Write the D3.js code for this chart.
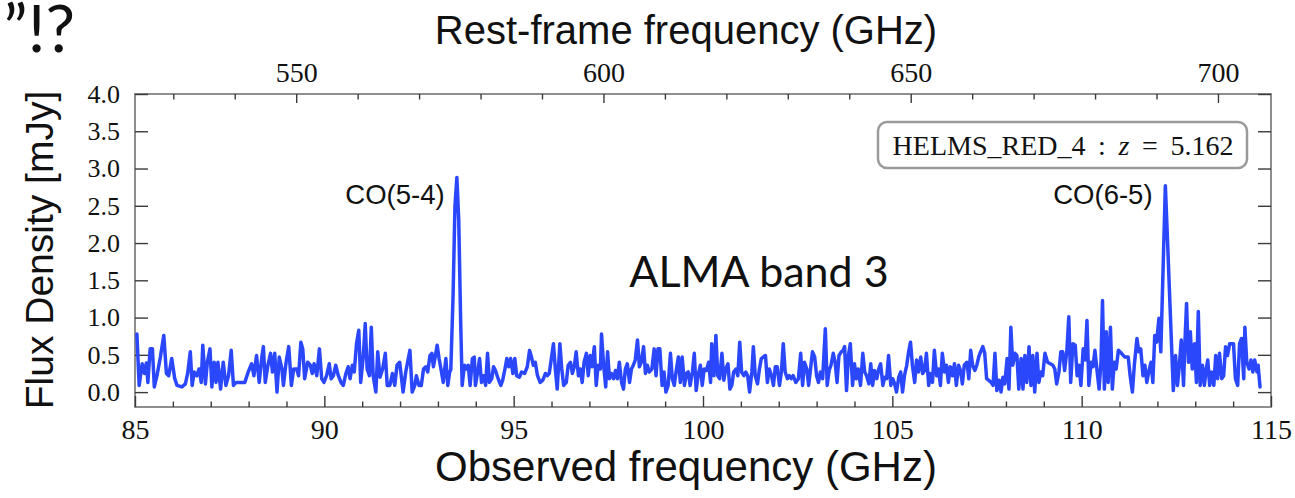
<!DOCTYPE html>
<html><head><meta charset="utf-8">
<script src="https://cdn.jsdelivr.net/npm/d3@7"></script>
<style>html,body{margin:0;padding:0;background:#fff}svg{display:block}</style>
</head><body>
<svg id="chart" width="1295" height="498"></svg>
<script>
const redshift = 5.162;
const sourceName = "HELMS_RED_4";
const lineNames = ["CO(5-4)", "CO(6-5)"];
const lineRestGHz = [576.268, 691.473];
const xTicks = [85, 90, 95, 100, 105, 110, 115];
const xMinorTicks = [86,87,88,89,91,92,93,94,96,97,98,99,101,102,103,104,106,107,108,109,111,112,113,114];
const restTicks = [550, 600, 650, 700];
const restMinorTicks = [530,540,560,570,580,590,610,620,630,640,660,670,680,690];
const yTicks = [0.0, 0.5, 1.0, 1.5, 2.0, 2.5, 3.0, 3.5, 4.0];
// observed frequency (GHz), flux density (mJy)
const spectrum = [
[85.05,0.78],[85.11,0.09],[85.19,0.38],[85.25,0.25],[85.30,0.39],[85.34,0.13],[85.40,0.58],[85.46,0.58],[85.51,0.07],[85.58,0.22],
[85.67,0.47],[85.76,0.76],[85.83,0.25],[85.89,0.22],[85.97,0.45],[86.05,0.18],[86.11,0.09],[86.24,0.07],[86.33,0.11],[86.39,0.25],
[86.46,0.54],[86.51,0.09],[86.56,0.27],[86.63,0.22],[86.69,0.31],[86.75,0.13],[86.79,0.63],[86.86,0.11],[86.91,0.40],[86.98,0.58],
[87.03,0.07],[87.09,0.40],[87.14,0.13],[87.19,0.40],[87.26,0.04],[87.33,0.40],[87.40,0.09],[87.47,0.22],[87.54,0.56],[87.60,0.09],
[87.67,0.13],[87.90,0.13],[87.99,0.27],[88.08,0.38],[88.14,0.22],[88.21,0.49],[88.28,0.13],[88.35,0.47],[88.39,0.61],[88.44,0.13],
[88.51,0.36],[88.58,0.52],[88.63,0.27],[88.69,0.52],[88.75,0.00],[88.81,0.47],[88.88,0.31],[88.92,0.09],[88.99,0.40],[89.06,0.61],
[89.13,0.09],[89.19,0.31],[89.27,0.31],[89.32,0.22],[89.38,0.67],[89.43,0.58],[89.48,0.18],[89.56,0.40],[89.63,0.36],[89.68,0.25],
[89.73,0.38],[89.80,0.22],[89.87,0.58],[89.93,0.18],[89.99,0.13],[90.06,0.22],[90.13,0.38],[90.18,0.18],[90.24,0.22],[90.30,0.36],
[90.37,0.22],[90.44,0.13],[90.50,0.09],[90.57,0.25],[90.63,0.34],[90.68,0.18],[90.74,0.36],[90.79,0.27],[90.85,0.65],[90.91,0.83],
[90.96,0.13],[91.03,0.49],[91.08,0.92],[91.13,0.31],[91.19,0.22],[91.24,0.87],[91.29,0.22],[91.36,0.00],[91.41,0.54],[91.47,0.20],
[91.54,0.31],[91.61,0.52],[91.66,0.09],[91.73,0.09],[91.80,0.25],[91.86,0.09],[91.92,0.36],[91.99,0.40],[92.04,0.18],[92.08,0.00],
[92.15,0.27],[92.21,0.43],[92.26,0.56],[92.32,0.00],[92.39,0.09],[92.43,0.22],[92.50,0.09],
[92.56,0.09],[92.62,0.31],[92.68,0.34],[92.73,0.27],[92.79,0.49],[92.84,0.52],[92.88,0.34],[92.92,0.45],[92.98,0.63],[93.03,0.45],
[93.08,0.31],[93.14,0.13],[93.21,0.45],[93.26,0.09],[93.31,0.27],[93.34,0.30],[93.40,1.30],[93.45,2.50],[93.50,2.88],[93.55,2.30],
[93.60,0.95],[93.64,0.09],[93.70,0.36],[93.76,0.31],[93.80,0.36],[93.85,0.09],[93.91,0.45],[93.96,0.47],[93.99,0.09],[94.05,0.27],
[94.10,0.45],[94.15,0.13],[94.21,0.22],[94.26,0.09],[94.31,0.52],[94.36,0.13],[94.42,0.18],[94.47,0.34],[94.52,0.29],[94.59,0.18],
[94.66,0.09],[94.71,0.16],[94.77,0.31],[94.82,0.45],[94.87,0.34],[94.92,0.45],[94.98,0.25],[95.03,0.45],[95.08,0.22],[95.15,0.20],
[95.21,0.27],[95.29,0.25],[95.36,0.34],[95.42,0.56],[95.47,0.47],[95.52,0.36],[95.57,0.40],[95.63,0.22],[95.70,0.13],[95.77,0.16],
[95.84,0.25],[95.89,0.22],[95.94,0.25],[95.99,0.43],[96.05,0.65],[96.10,0.31],[96.15,0.04],[96.22,0.65],[96.27,0.31],[96.32,0.09],
[96.39,0.13],[96.44,0.36],[96.50,0.40],[96.55,0.25],[96.60,0.34],[96.65,0.54],[96.71,0.22],[96.76,0.31],[96.81,0.13],[96.86,0.40],
[96.92,0.52],[96.97,0.22],[97.02,0.49],[97.07,0.34],[97.13,0.61],[97.18,0.09],[97.23,0.36],[97.29,0.31],[97.32,0.78],[97.37,0.40],
[97.43,0.07],[97.48,0.54],[97.53,0.18],[97.58,0.25],[97.64,0.18],[97.69,0.29],[97.74,0.18],[97.79,0.40],[97.85,0.13],[97.90,0.04],
[97.95,0.31],[98.00,0.38],[98.06,0.13],[98.11,0.31],[98.16,0.36],[98.21,0.43],[98.27,0.70],[98.32,0.34],[98.37,0.40],[98.43,0.61],
[98.48,0.25],[98.53,0.36],[98.58,0.27],[98.65,0.31],[98.71,0.58],[98.76,0.22],[98.81,0.58],[98.86,0.58],[98.92,0.09],[98.97,0.27],
[99.02,0.00],[99.08,0.09],[99.14,0.52],[99.19,0.18],[99.24,0.09],[99.30,0.31],[99.35,0.47],[99.40,0.13],[99.45,0.47],[99.51,0.09],
[99.56,0.25],[99.61,0.27],[99.66,0.09],[99.72,0.27],[99.77,0.52],[99.82,0.02],[99.87,0.22],[99.93,0.36],[99.98,0.09],[100.03,0.31],
[100.09,0.29],[100.15,0.40],[100.20,0.13],[100.23,0.65],[100.29,0.22],[100.34,0.76],[100.39,0.22],[100.44,0.18],[100.50,0.52],[100.55,0.16],
[100.60,0.31],[100.66,0.38],[100.71,0.04],[100.76,0.09],[100.81,0.27],[100.87,0.31],[100.92,0.22],[100.97,0.67],[101.02,0.27],[101.08,0.22],
[101.13,0.27],[101.18,0.22],[101.23,0.00],[101.29,0.27],[101.33,0.61],[101.38,0.22],[101.44,0.11],[101.49,0.31],[101.54,0.45],[101.59,0.47],
[101.65,0.49],[101.70,0.13],[101.75,0.31],[101.81,0.22],[101.86,0.09],[101.91,0.34],[101.96,0.34],[102.02,0.09],[102.07,0.27],[102.12,0.65],
[102.17,0.27],[102.23,0.18],[102.28,0.22],[102.33,0.18],[102.38,0.22],[102.45,0.13],[102.52,0.18],[102.58,0.52],[102.63,0.09],[102.68,0.40],
[102.74,0.31],[102.79,0.09],[102.84,0.31],[102.89,0.54],[102.95,0.47],[103.00,0.22],[103.05,0.13],[103.10,0.27],[103.16,0.18],[103.23,0.85],
[103.28,0.09],[103.33,0.29],[103.38,0.36],[103.44,0.52],[103.49,0.40],[103.54,0.13],[103.59,0.49],[103.65,0.54],[103.70,0.56],[103.74,0.61],
[103.79,0.02],[103.84,0.49],[103.89,0.65],[103.95,0.09],[104.00,0.38],[104.05,0.18],[104.10,0.31],[104.16,0.09],[104.22,0.52],[104.27,0.27],
[104.32,0.22],[104.38,0.11],[104.43,0.38],[104.48,0.09],[104.53,0.29],[104.59,0.18],[104.64,0.31],[104.69,0.38],[104.75,0.09],[104.80,0.20],
[104.85,0.18],[104.90,0.49],[104.96,0.09],[105.01,0.18],[105.06,0.11],[105.11,0.00],[105.17,0.20],[105.22,0.27],[105.27,0.00],[105.32,0.22],
[105.38,0.36],[105.43,0.54],[105.48,0.67],[105.53,0.36],[105.59,0.13],[105.64,0.43],[105.69,0.27],[105.75,0.47],[105.80,0.25],[105.85,0.29],
[105.90,0.52],[105.96,0.09],[106.01,0.25],[106.06,0.13],[106.11,0.56],[106.17,0.22],[106.22,0.31],[106.27,0.09],[106.32,0.52],[106.38,0.27],
[106.43,0.36],[106.48,0.13],[106.53,0.34],[106.59,0.22],[106.64,0.38],[106.69,0.09],[106.75,0.36],[106.80,0.29],[106.85,0.11],[106.90,0.36],
[106.97,0.40],[107.02,0.18],[107.07,0.56],[107.12,0.36],[107.18,0.29],[107.23,0.36],[107.28,0.47],[107.33,0.54],[107.39,0.61],[107.44,0.52],
[107.49,0.18],[107.54,0.16],
[107.61,0.13],[107.66,0.09],[107.71,0.52],[107.76,0.02],[107.82,0.16],[107.87,0.00],[107.92,0.20],[107.97,0.11],[108.03,0.45],[108.08,0.04],
[108.13,0.87],[108.18,0.36],[108.24,0.52],[108.29,0.49],[108.34,0.04],[108.40,0.45],[108.45,0.04],[108.50,0.49],[108.55,0.13],[108.61,0.61],
[108.66,0.09],[108.71,0.49],[108.76,0.00],[108.82,0.52],[108.87,0.13],[108.92,0.27],[108.97,0.22],[109.03,0.52],[109.10,0.40],[109.17,0.38],
[109.24,0.36],[109.29,0.31],[109.34,0.11],[109.40,0.27],[109.45,0.54],[109.50,0.54],[109.55,0.29],[109.61,0.56],[109.66,1.01],[109.71,0.13],
[109.77,0.65],[109.83,0.63],[109.88,0.22],[109.93,0.36],[109.98,0.09],[110.04,0.58],[110.09,0.43],[110.14,0.96],[110.19,0.09],[110.25,0.40],
[110.30,0.34],[110.35,0.56],[110.41,0.27],[110.46,0.04],[110.51,0.40],[110.55,1.23],[110.60,0.04],[110.65,0.81],[110.70,0.13],[110.76,0.87],
[110.81,0.04],[110.86,0.40],[110.91,0.31],[110.97,0.56],[111.05,0.52],[111.14,0.47],[111.23,0.47],[111.28,0.22],[111.34,0.00],[111.39,0.36],
[111.46,0.72],[111.51,0.54],[111.56,0.58],[111.62,0.22],[111.67,0.36],[111.72,0.13],[111.77,0.27],[111.83,0.40],[111.88,0.13],[111.93,0.76],
[111.98,0.67],[112.04,0.99],[112.09,0.54],[112.15,1.65],[112.21,2.77],[112.27,2.00],[112.33,1.20],[112.38,0.55],[112.42,0.02],[112.48,0.49],
[112.53,0.09],[112.58,0.36],[112.63,0.70],[112.69,0.09],[112.72,0.58],[112.77,1.19],[112.82,0.40],[112.87,0.81],[112.92,0.31],[112.98,0.65],
[113.03,0.13],[113.08,1.08],[113.13,0.09],[113.19,0.36],[113.24,0.09],[113.29,0.31],[113.33,0.43],[113.38,0.09],[113.43,0.27],[113.49,0.09],
[113.54,0.49],[113.59,0.18],[113.64,0.52],[113.70,0.18],[113.75,0.22],[113.80,0.61],[113.85,0.49],[113.91,0.65],[113.96,0.65],[114.01,0.65],
[114.06,0.18],[114.12,0.09],[114.17,0.65],[114.22,0.72],[114.28,0.18],[114.31,0.87],[114.36,0.40],[114.42,0.31],[114.47,0.43],[114.52,0.27],
[114.57,0.43],[114.63,0.27],[114.66,0.36],[114.71,0.07]
];

const plot = {left: 135, right: 1271, top: 94, bottom: 407};
const serif = "'Liberation Serif', 'Times New Roman', serif";
const sans = "'Liberation Sans', Arial, Helvetica, sans-serif";

const svg = d3.select("#chart");
const x = d3.scaleLinear().domain([85, 115]).range([plot.left, plot.right]);
const xRest = d3.scaleLinear().domain([85 * (1 + redshift), 115 * (1 + redshift)]).range([plot.left, plot.right]);
const y = d3.scaleLinear().domain([-0.2, 4.0]).range([plot.bottom, plot.top]);

function styleAxis(g, size) {
  g.select(".domain").remove();
  g.selectAll(".tick line").attr("stroke", "#3a3a3a").attr("stroke-width", 1.4);
  g.selectAll(".tick text").attr("font-family", serif).attr("font-size", size).attr("fill", "#111");
}

// frame
svg.append("rect")
  .attr("x", plot.left).attr("y", plot.top)
  .attr("width", plot.right - plot.left).attr("height", plot.bottom - plot.top)
  .attr("fill", "none").attr("stroke", "#8e8e8e").attr("stroke-width", 2);

// bottom axis
svg.append("g").attr("transform", `translate(0,${plot.bottom})`)
  .call(d3.axisBottom(x).tickValues(xMinorTicks).tickSize(-5.5).tickFormat(""))
  .call(g => styleAxis(g, 28));
svg.append("g").attr("transform", `translate(0,${plot.bottom})`)
  .call(d3.axisBottom(x).tickValues(xTicks).tickSize(-11).tickPadding(12).tickFormat(d3.format("d")))
  .call(g => styleAxis(g, 28));

// top axis (rest frame)
svg.append("g").attr("transform", `translate(0,${plot.top})`)
  .call(d3.axisTop(xRest).tickValues(restMinorTicks).tickSize(-5.5).tickFormat(""))
  .call(g => styleAxis(g, 28));
svg.append("g").attr("transform", `translate(0,${plot.top})`)
  .call(d3.axisTop(xRest).tickValues(restTicks).tickSize(-9).tickPadding(12).tickFormat(d3.format("d")))
  .call(g => styleAxis(g, 28));

// left / right axes
svg.append("g").attr("transform", `translate(${plot.left},0)`)
  .call(d3.axisLeft(y).tickValues(yTicks).tickSize(-13).tickPadding(15).tickFormat(d3.format(".1f")))
  .call(g => styleAxis(g, 26));
svg.append("g").attr("transform", `translate(${plot.right},0)`)
  .call(d3.axisRight(y).tickValues(yTicks).tickSize(-13).tickFormat(""))
  .call(g => styleAxis(g, 26));

// spectrum
const line = d3.line().x(d => x(d[0])).y(d => y(d[1]));
svg.append("path").datum(spectrum)
  .attr("d", line).attr("fill", "none")
  .attr("stroke", "#2b47fb").attr("stroke-width", 3.5)
  .attr("stroke-linejoin", "round").attr("stroke-linecap", "round");

// line labels
svg.append("g").selectAll("text").data(lineNames).join("text")
  .attr("x", (d, i) => x(lineRestGHz[i] / (1 + redshift)) - 13)
  .attr("y", y(2.52))
  .attr("text-anchor", "end")
  .attr("font-family", sans).attr("font-size", 27.5).attr("fill", "#111")
  .text(d => d);

// source box
const box = svg.append("g");
box.append("rect").attr("x", 878).attr("y", 122).attr("width", 369).attr("height", 46)
  .attr("rx", 9).attr("fill", "#fff").attr("stroke", "#9a9a9a").attr("stroke-width", 2.5);
const bt = box.append("text").attr("x", 1063).attr("y", 155).attr("text-anchor", "middle")
  .attr("font-family", serif).attr("font-size", 28).attr("fill", "#111");
bt.append("tspan").text(sourceName + " \u2009:\u2009 ");
bt.append("tspan").attr("font-style", "italic").text("z");
bt.append("tspan").text(" \u2009=\u2009 " + redshift.toFixed(3));

// band annotation
svg.append("text").attr("x", 759).attr("y", 287).attr("text-anchor", "middle")
  .attr("font-family", "Lato, 'Open Sans', sans-serif").attr("font-size", 43).attr("fill", "#111")
  .text("ALMA band 3");

// axis titles
svg.append("text").attr("x", 686).attr("y", 44).attr("text-anchor", "middle")
  .attr("font-family", sans).attr("font-size", 40).attr("fill", "#111")
  .text("Rest-frame frequency (GHz)");
svg.append("text").attr("x", 686).attr("y", 481).attr("text-anchor", "middle")
  .attr("font-family", sans).attr("font-size", 42).attr("fill", "#111")
  .text("Observed frequency (GHz)");
svg.append("text").attr("transform", "translate(53,250) rotate(-90)").attr("text-anchor", "middle")
  .attr("font-family", sans).attr("font-size", 39).attr("fill", "#111")
  .text("Flux Density [mJy]");

// slide fragment in the corner
svg.append("text").attr("x", 75).attr("y", 52).attr("text-anchor", "end")
  .attr("font-family", "Lato, 'Open Sans', sans-serif").attr("font-size", 66).attr("fill", "#111")
  .text("\u201D!?");
</script>
</body></html>
